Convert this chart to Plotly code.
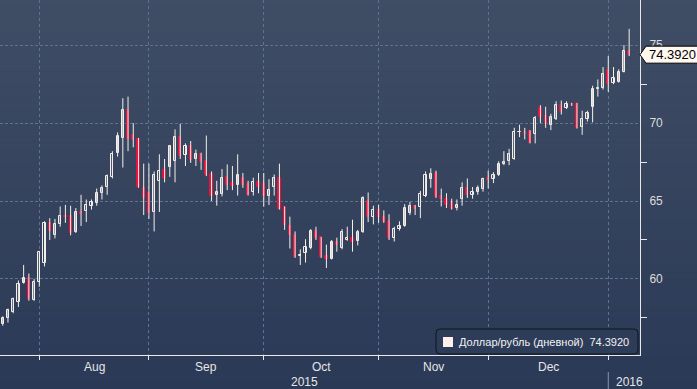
import plotly.graph_objects as go
import pandas as pd

# ---------------- data ----------------
dates = pd.bdate_range("2015-07-23", "2016-01-07")

open_ = [57.1, 57.5, 57.9, 58.5, 59.75, 60.05, 58.65, 59.8, 61.0, 63.6,
         62.85, 63.5, 64.05, 64.05, 63.0, 64.3, 64.35, 64.65, 64.9, 65.5,
         65.9, 66.55, 68.1, 69.05, 70.85, 69.25, 68.95, 65.85, 65.5, 64.3,
         66.3, 67.0, 67.2, 67.55, 69.1, 67.95, 68.55, 67.7, 68.0, 67.6,
         66.75, 65.4, 65.45, 66.55, 66.15, 66.0, 66.45, 66.1, 65.6, 66.2,
         66.1, 65.35, 65.9, 66.45, 64.6, 63.4, 62.85, 61.45, 61.65, 62.0,
         63.1, 62.7, 61.45, 61.3, 62.35, 62.0, 62.5, 62.65, 62.45, 63.0,
         65.0, 63.95, 64.4, 63.95, 63.7, 62.6, 63.2, 63.4, 64.25, 64.65,
         64.6, 65.3, 66.4, 66.8, 65.35, 65.15, 64.85, 64.55, 65.1, 65.85,
         65.4, 65.55, 65.8, 66.45, 66.4, 66.65, 67.35, 67.55, 67.7, 69.4,
         69.45, 69.5, 69.3, 70.95, 70.45, 69.85, 70.25, 71.15, 70.95, 71.25,
         71.25, 69.75, 70.25, 71.05, 72.2, 72.25, 73.4, 72.55, 72.65, 73.3,
         74.6]
high_ = [57.6, 58.1, 58.8, 59.9, 60.9, 60.35, 60.0, 61.8, 63.7, 63.9,
         63.85, 64.65, 64.75, 64.7, 64.55, 65.4, 65.1, 65.1, 65.8, 66.0,
         66.7, 68.2, 69.4, 71.6, 71.7, 70.0, 69.05, 67.4, 67.4, 66.9,
         68.0, 67.7, 68.6, 69.6, 69.95, 68.7, 68.85, 68.3, 68.1, 69.2,
         66.9, 66.3, 67.05, 67.35, 67.25, 68.0, 66.8, 66.3, 66.5, 66.8,
         66.8, 66.4, 66.7, 67.4, 64.65, 64.0, 63.05, 61.9, 62.55, 63.2,
         63.35, 62.7, 62.2, 62.5, 62.65, 63.2, 63.35, 63.8, 63.15, 65.3,
         65.55, 64.7, 64.75, 64.4, 64.15, 63.35, 63.7, 64.8, 64.95, 64.75,
         65.65, 66.9, 67.1, 66.95, 65.8, 65.5, 65.15, 65.1, 66.2, 66.45,
         65.9, 66.0, 66.5, 66.95, 66.85, 67.55, 68.2, 68.35, 69.7, 69.9,
         69.7, 69.55, 70.45, 71.15, 71.05, 70.6, 71.4, 71.45, 71.4, 71.3,
         71.3, 70.8, 70.8, 72.4, 72.8, 73.6, 74.3, 73.6, 73.45, 75.0,
         76.05]
low_ = [57.0, 57.2, 57.8, 58.2, 59.7, 58.6, 58.6, 59.5, 60.8, 62.5,
        62.6, 63.35, 63.6, 62.8, 62.95, 63.4, 63.65, 64.45, 64.7, 65.1,
        65.4, 66.45, 67.85, 67.15, 68.2, 68.45, 65.85, 64.1, 63.85, 63.05,
        64.3, 66.2, 66.55, 66.2, 67.7, 67.25, 67.45, 67.25, 67.0, 66.6,
        65.0, 64.7, 65.3, 65.7, 65.7, 65.35, 65.85, 65.35, 65.35, 65.5,
        64.65, 64.75, 65.35, 64.45, 63.15, 61.95, 61.35, 60.9, 61.05, 61.9,
        62.5, 61.35, 60.7, 61.25, 61.75, 61.9, 62.45, 61.75, 62.15, 62.95,
        63.65, 63.5, 63.6, 63.6, 62.5, 62.4, 63.1, 63.35, 64.1, 64.1,
        63.9, 65.25, 65.85, 65.2, 64.65, 64.55, 64.45, 64.4, 64.7, 65.2,
        65.15, 65.4, 65.6, 65.8, 66.15, 66.6, 67.3, 67.3, 67.65, 69.1,
        68.95, 68.7, 68.7, 70.0, 69.7, 69.55, 70.2, 70.55, 70.9, 71.1,
        69.65, 69.25, 70.1, 70.05, 71.7, 72.15, 72.0, 72.5, 72.6, 73.25,
        74.3]
close_ = [57.5, 58.0, 58.7, 59.7, 60.05, 58.7, 59.8, 61.7, 63.6, 63.1,
          63.5, 64.05, 64.0, 62.95, 64.3, 64.2, 64.75, 64.95, 65.5, 65.85,
          66.6, 68.0, 69.2, 70.85, 68.95, 68.9, 65.9, 65.2, 64.25, 66.7,
          66.95, 66.45, 68.5, 69.1, 67.9, 68.55, 67.65, 68.0, 67.5, 66.7,
          65.35, 65.55, 66.45, 66.0, 65.95, 66.7, 66.0, 65.4, 66.25, 65.9,
          65.35, 65.7, 66.45, 64.5, 63.45, 62.8, 61.4, 61.55, 62.05, 63.1,
          62.65, 61.4, 61.3, 62.35, 62.15, 63.0, 62.6, 62.4, 63.0, 65.2,
          63.95, 64.4, 63.95, 63.65, 62.65, 63.2, 63.4, 64.55, 64.7, 64.5,
          65.45, 66.7, 66.75, 65.25, 65.15, 64.75, 64.5, 64.75, 65.85, 65.4,
          65.6, 65.85, 66.4, 66.35, 66.65, 67.35, 67.5, 68.0, 69.45, 69.45,
          69.3, 68.75, 70.3, 70.4, 69.95, 70.4, 71.15, 70.7, 71.2, 71.15,
          69.7, 70.25, 70.65, 72.2, 72.25, 73.15, 72.5, 72.9, 73.25, 74.6,
          74.392]

month_labels = ["Aug", "Sep", "Oct", "Nov", "Dec"]
year_labels = ["2015", "2016"]
y_ticks = [60, 65, 70, 75]
series_name = "Доллар/рубль (дневной)"

# ---------------- geometry / style ----------------
W, H = 697, 389
PW, PH = 640, 355            # plot area size in px (margins l=0,t=0)
PX_PER_DAY = 5.22
XMIN = -0.529
XMAX = XMIN + PW / PX_PER_DAY
YMIN, YMAX = 55.12, 77.9
FONT = "Liberation Sans, Arial, sans-serif"
RED = "#e0143c"
WHITE = "#f4efea"
TOP_RGB = (64, 77, 101)
BOT_RGB = (42, 57, 86)


def px(x):
    return x / PW


def py(y):
    return 1 - y / PH


def grad(frac):
    c = [round(TOP_RGB[k] + (BOT_RGB[k] - TOP_RGB[k]) * frac) for k in range(3)]
    return "rgb(%d,%d,%d)" % tuple(c)


n = len(dates)
idx = list(range(n))
month_starts = [i for i in range(1, n) if dates[i].month != dates[i - 1].month]

fig = go.Figure()

# wicks
wx, wy = [], []
for i in idx:
    wx += [i, i, None]
    wy += [low_[i], high_[i], None]
fig.add_trace(go.Scatter(x=wx, y=wy, mode="lines",
                         line=dict(color=WHITE, width=1),
                         hoverinfo="skip", showlegend=False))

# bodies
base, hgt, fill, edge = [], [], [], []
for i in idx:
    o, c = open_[i], close_[i]
    base.append(min(o, c))
    hgt.append(abs(c - o))
    mid_val = (o + c) / 2
    ypx = (YMAX - mid_val) / (YMAX - YMIN) * PH
    if c >= o:
        fill.append(grad(ypx / H))
        edge.append(WHITE)
    else:
        fill.append(RED)
        edge.append(RED)
fig.add_trace(go.Bar(x=idx, y=hgt, base=base, width=0.42,
                     marker=dict(color=fill, line=dict(color=edge, width=1)),
                     name=series_name, showlegend=False))

shapes = []
# gradient background
NS = 60
for k in range(NS):
    y0p = H * k / NS
    y1p = H * (k + 1) / NS
    shapes.append(dict(type="rect", xref="paper", yref="paper",
                       x0=-0.01, x1=W / PW + 0.01, y0=py(y1p + 0.5), y1=py(y0p),
                       fillcolor=grad((k + 0.5) / NS), line=dict(width=0),
                       layer="below"))

# separator below Jan tick
shapes.append(dict(type="line", xref="x", yref="paper",
                   x0=month_starts[-1], x1=month_starts[-1],
                   y0=py(372), y1=py(389), line=dict(color="#8895a8", width=1)))

# legend box (rounded rect)
bx0, bx1, by0, by1, r = 436, 638, 329, 354, 4
path = ("M{a},{b} L{c},{b} Q{d},{b} {d},{e} L{d},{f} Q{d},{g} {c},{g} "
        "L{a},{g} Q{h},{g} {h},{f} L{h},{e} Q{h},{b} {a},{b} Z").format(
    a=px(bx0 + r), b=py(by0), c=px(bx1 - r), d=px(bx1), e=py(by0 + r),
    f=py(by1 - r), g=py(by1), h=px(bx0))
shapes.append(dict(type="path", xref="paper", yref="paper", path=path,
                   fillcolor="#2d3c58", line=dict(color="#111418", width=1),
                   layer="above"))
shapes.append(dict(type="rect", xref="paper", yref="paper",
                   x0=px(443), x1=px(453), y0=py(347), y1=py(337),
                   fillcolor="#fdf0ea", line=dict(width=0), layer="above"))

# last price label
shapes.append(dict(type="path", xref="paper", yref="y",
                   xsizemode="pixel", ysizemode="pixel",
                   xanchor=1.0, yanchor=close_[-1],
                   path="M0,0 L6,8.5 L70,8.5 L70,-8.5 L6,-8.5 Z",
                   fillcolor="#fff8f0", line=dict(color="#000000", width=1),
                   layer="above"))

annotations = []
for k, lab in enumerate(month_labels):
    annotations.append(dict(x=(month_starts[k] + month_starts[k + 1]) / 2,
                            xref="x", y=0, yref="paper", yanchor="middle",
                            yshift=-12, text=lab, showarrow=False,
                            font=dict(family=FONT, size=12, color="#e6e6e6")))
annotations.append(dict(x=px(304), xref="paper", y=0, yref="paper",
                        yanchor="middle", yshift=-27, text=year_labels[0],
                        showarrow=False,
                        font=dict(family=FONT, size=12, color="#e6e6e6")))
annotations.append(dict(x=month_starts[-1], xref="x", xanchor="left", xshift=6,
                        y=0, yref="paper", yanchor="middle", yshift=-27,
                        text=year_labels[1], showarrow=False,
                        font=dict(family=FONT, size=12, color="#e6e6e6")))
annotations.append(dict(x=px(457), xref="paper", xanchor="left",
                        y=py(342), yref="paper", yanchor="middle",
                        text=series_name + "\u00a0\u00a0" + "%.4f" % close_[-1],
                        showarrow=False,
                        font=dict(family=FONT, size=11, color="#f2f2f2")))
annotations.append(dict(x=px(647), xref="paper", xanchor="left",
                        y=close_[-1], yref="y", yanchor="middle",
                        text="%.4f" % close_[-1], showarrow=False,
                        font=dict(family=FONT, size=13, color="#000000")))

GRID = "#5b7491"
fig.update_layout(
    width=W, height=H,
    margin=dict(l=0, r=W - PW, t=0, b=H - PH, pad=0),
    paper_bgcolor="rgb(42,57,86)",
    plot_bgcolor="rgba(0,0,0,0)",
    font=dict(family=FONT, size=12, color="#e6e6e6"),
    showlegend=False,
    bargap=0,
    shapes=shapes,
    annotations=annotations,
    xaxis=dict(range=[XMIN, XMAX], tickmode="array", tickvals=month_starts,
               showticklabels=False, ticks="outside", ticklen=4,
               tickcolor="#e8e8e8", showline=True, linecolor="#e8e8e8",
               linewidth=1, showgrid=True, gridcolor=GRID, griddash="3px,3px",
               gridwidth=1, zeroline=False, fixedrange=True),
    yaxis=dict(range=[YMIN, YMAX], side="right", tickmode="array",
               tickvals=y_ticks, ticks="", showline=True,
               linecolor="#e8e8e8", linewidth=1, showgrid=True,
               gridcolor=GRID, griddash="3px,2px", gridwidth=1,
               zeroline=False, tickfont=dict(size=12, color="#dcdcdc"),
               ticklabelstandoff=6,
               minor=dict(ticks="outside", ticklen=6, tickcolor="#e8e8e8",
                          tickmode="array", tickvals=[57.5, 62.5, 67.5, 72.5],
                          showgrid=False),
               fixedrange=True),
)

fig.write_html(
    "out.html",
    config={"displayModeBar": False},
    post_script="document.body.style.margin='0';document.body.style.overflow='hidden';",
)
